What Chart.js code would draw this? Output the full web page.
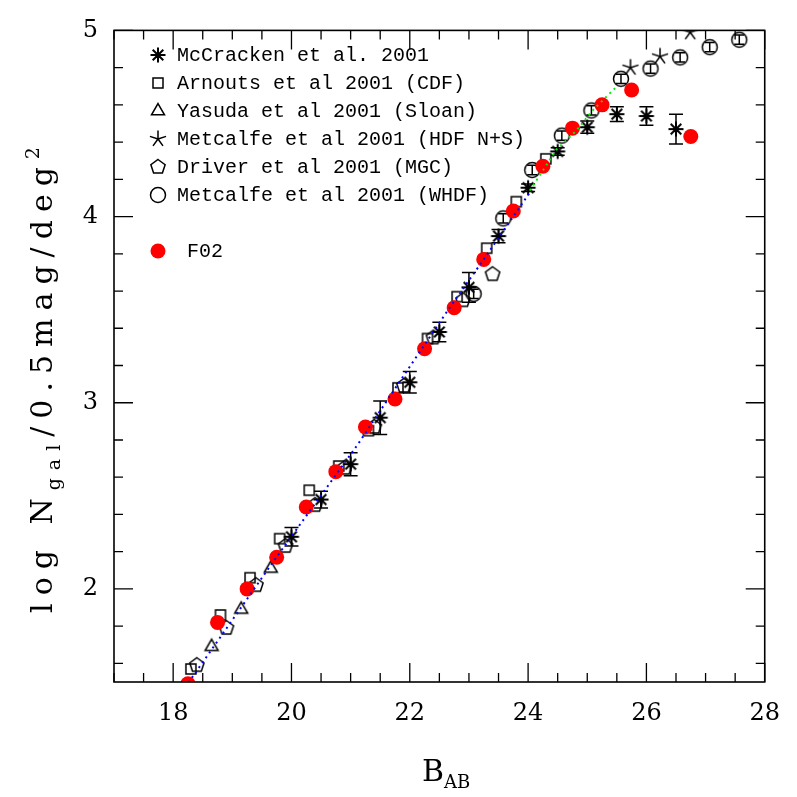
<!DOCTYPE html>
<html>
<head>
<meta charset="utf-8">
<script src="https://cdn.jsdelivr.net/npm/chart.js@4.4.0/dist/chart.umd.min.js"></script>
<style>
  html, body { margin: 0; padding: 0; background: #fff; }
</style>
</head>
<body>
<canvas id="chart" width="797" height="797"></canvas>
<script>
// F02 (red filled circles)
const f02Mag = [18.25, 18.75, 19.25, 19.75, 20.25, 20.75, 21.25, 21.75, 22.25, 22.75, 23.25, 23.75, 24.25, 24.75, 25.25, 25.75, 26.75];
const f02LogN = [1.49, 1.82, 2.00, 2.17, 2.44, 2.63, 2.87, 3.02, 3.29, 3.51, 3.77, 4.03, 4.27, 4.475, 4.60, 4.68, 4.43];

// McCracken et al. 2001
const mccMag = [20.0, 20.5, 21.0, 21.5, 22.0, 22.5, 23.0, 23.5, 24.0, 24.5, 25.0, 25.5, 26.0, 26.5];
const mccLogN = [2.28, 2.48, 2.67, 2.92, 3.11, 3.38, 3.62, 3.895, 4.155, 4.35, 4.48, 4.55, 4.54, 4.47];
const mccErr = [0.05, 0.045, 0.062, 0.09, 0.058, 0.053, 0.08, 0.036, 0.02, 0.02, 0.033, 0.04, 0.05, 0.08];

// Arnouts et al 2001 (CDF)
const arnMag = [18.3, 18.8, 19.3, 19.8, 20.3, 20.8, 21.3, 21.8, 22.3, 22.8, 23.3, 23.8, 24.3];
const arnLogN = [1.57, 1.86, 2.06, 2.27, 2.53, 2.66, 2.85, 3.08, 3.345, 3.57, 3.83, 4.08, 4.31];

// Yasuda et al 2001 (Sloan)
const yasMag = [18.65, 19.15, 19.65];
const yasLogN = [1.69, 1.89, 2.11];

// Metcalfe et al 2001 (HDF N+S)
const hdfMag = [25.73, 26.23, 26.74];
const hdfLogN = [4.80, 4.86, 4.99];

// Driver et al 2001 (MGC)
const mgcMag = [18.4, 18.9, 19.4, 19.9, 20.4, 20.9, 21.4, 21.9, 22.4, 22.9, 23.4];
const mgcLogN = [1.59, 1.79, 2.02, 2.23, 2.45, 2.65, 2.87, 3.09, 3.35, 3.55, 3.69];

// Metcalfe et al 2001 (WHDF)
const whdfMag = [23.08, 23.58, 24.07, 24.57, 25.07, 25.57, 26.07, 26.57, 27.07, 27.57];
const whdfLogN = [3.585, 3.99, 4.25, 4.435, 4.57, 4.74, 4.795, 4.855, 4.91, 4.95];
const whdfErr = [0.025, 0.025, 0.025, 0.025, 0.025, 0.025, 0.025, 0.025, 0.025, 0.025];

// model curves (dotted)
const blueMag = [18.2, 19.7, 21.13, 21.8, 22.63, 23.25, 24.03];
const blueLogN = [1.47, 2.15, 2.78, 3.10, 3.49, 3.77, 4.13];
const greenMag = [24.03, 24.48, 24.81, 25.09, 25.47];
const greenLogN = [4.14, 4.36, 4.46, 4.57, 4.69];

// axes
const xTickLabels = [18, 20, 22, 24, 26, 28];
const yTickLabels = [2, 3, 4, 5];

const pts = (xs, ys) => xs.map((x, i) => ({ x, y: ys[i] }));

function makeSymbol(draw, lw) {
    const c = document.createElement('canvas');
    c.width = 22;
    c.height = 22;
    const g = c.getContext('2d');
    g.translate(11, 11);
    g.strokeStyle = '#000';
    g.lineWidth = lw || 1.5;
    g.beginPath();
    draw(g);
    g.stroke();
    return c;
}

const asterisk = (n, r) => (g) => {
    for (let k = 0; k < n; k++) {
        const a = -Math.PI / 2 + k * 2 * Math.PI / n;
        g.moveTo(0, 0);
        g.lineTo(r * Math.cos(a), r * Math.sin(a));
    }
};
const polygon = (n, r) => (g) => {
    for (let k = 0; k <= n; k++) {
        const a = -Math.PI / 2 + k * 2 * Math.PI / n;
        const px = r * Math.cos(a), py = r * Math.sin(a);
        k ? g.lineTo(px, py) : g.moveTo(px, py);
    }
    g.closePath();
};

const symMcc = makeSymbol(asterisk(8, 7.5), 2);
const symSquare = makeSymbol((g) => g.rect(-5, -5, 10, 10));
const symTriangle = makeSymbol(polygon(3, 7.5));
const symStar5 = makeSymbol(asterisk(5, 8.5));
const symPentagon = makeSymbol(polygon(5, 7.5));
const symCircle = makeSymbol((g) => g.arc(0, 0, 7.5, 0, Math.PI * 2));

const legendRows = [
    { sym: symMcc, text: 'McCracken et al. 2001', y: 55 },
    { sym: symSquare, text: 'Arnouts et al 2001 (CDF)', y: 83 },
    { sym: symTriangle, text: 'Yasuda et al 2001 (Sloan)', y: 111 },
    { sym: symStar5, text: 'Metcalfe et al 2001 (HDF N+S)', y: 139 },
    { sym: symPentagon, text: 'Driver et al 2001 (MGC)', y: 167 },
    { sym: symCircle, text: 'Metcalfe et al 2001 (WHDF)', y: 195 },
];

const errorBars = {
    id: 'errorBars',
    beforeDatasetsDraw(chart) {
        const { ctx, scales: { x, y } } = chart;
        ctx.save();
        ctx.strokeStyle = '#000';
        ctx.lineWidth = 1.5;
        chart.data.datasets.forEach((ds) => {
            if (!ds.errors) return;
            ds.data.forEach((p, i) => {
                const px = x.getPixelForValue(p.x);
                const top = y.getPixelForValue(p.y + ds.errors[i]);
                const bot = y.getPixelForValue(p.y - ds.errors[i]);
                const w = ds.capHalf;
                ctx.beginPath();
                ctx.moveTo(px, top); ctx.lineTo(px, bot);
                ctx.moveTo(px - w, top); ctx.lineTo(px + w, top);
                ctx.moveTo(px - w, bot); ctx.lineTo(px + w, bot);
                ctx.stroke();
            });
        });
        ctx.restore();
    },
};

const frame = {
    id: 'frame',
    afterDraw(chart) {
        const { ctx, chartArea: a, scales: { x, y } } = chart;
        ctx.save();
        ctx.strokeStyle = '#000';
        ctx.lineWidth = 1.6;
        ctx.strokeRect(a.left, a.top, a.width, a.height);
        ctx.lineWidth = 1.3;
        ctx.beginPath();
        // inward ticks, x: minor every 0.5, major every 2
        for (let v = 17; v <= 28.001; v += 0.5) {
            const px = x.getPixelForValue(v);
            const len = xTickLabels.includes(v) ? 19 : 9;
            ctx.moveTo(px, a.bottom); ctx.lineTo(px, a.bottom - len);
            ctx.moveTo(px, a.top); ctx.lineTo(px, a.top + len);
        }
        // y: minor every 0.2, major every 1
        for (let k = 8; k <= 25; k++) {
            const v = k / 5;
            const py = y.getPixelForValue(v);
            const len = k % 5 === 0 ? 19 : 9;
            ctx.moveTo(a.left, py); ctx.lineTo(a.left + len, py);
            ctx.moveTo(a.right, py); ctx.lineTo(a.right - len, py);
        }
        ctx.stroke();

        // legend inside plot
        ctx.fillStyle = '#000';
        ctx.font = '20px "Liberation Mono"';
        ctx.textBaseline = 'middle';
        legendRows.forEach((r) => {
            ctx.drawImage(r.sym, 158 - 11, r.y - 11);
            ctx.fillText(r.text, 177, r.y + 1);
        });
        ctx.fillStyle = '#ff0000';
        ctx.beginPath();
        ctx.arc(158, 251, 7.5, 0, Math.PI * 2);
        ctx.fill();
        ctx.fillStyle = '#000';
        ctx.fillText('F02', 187, 252);

        // axis titles with sub/superscripts
        ctx.font = '30px "DejaVu Serif"';
        ctx.textBaseline = 'alphabetic';
        ctx.fillText('B', 422, 781);
        ctx.font = '18px "DejaVu Serif"';
        ctx.fillText('AB', 444, 788);

        ctx.translate(52, 376);
        ctx.rotate(-Math.PI / 2);
        const segs = [
            { t: 'log N', f: 30, dy: 0 },
            { t: 'gal', f: 19, dy: 8 },
            { t: '/0.5mag/deg', f: 30, dy: 0 },
            { t: '2', f: 19, dy: -13 },
        ];
        ctx.letterSpacing = '8px';
        let total = 0;
        segs.forEach((s) => {
            ctx.font = s.f + 'px "DejaVu Serif"';
            s.w = ctx.measureText(s.t).width;
            total += s.w;
        });
        let cx = -total / 2;
        segs.forEach((s) => {
            ctx.font = s.f + 'px "DejaVu Serif"';
            ctx.fillText(s.t, cx, s.dy);
            cx += s.w;
        });
        ctx.restore();
    },
};

new Chart(document.getElementById('chart'), {
    type: 'scatter',
    data: {
        datasets: [
            {
                label: 'model',
                data: pts(blueMag, blueLogN),
                showLine: true,
                borderColor: '#0000ff',
                borderWidth: 2,
                borderDash: [2, 4],
                pointRadius: 0,
                order: 0,
            },
            {
                label: 'model faint',
                data: pts(greenMag, greenLogN),
                showLine: true,
                borderColor: '#00ee00',
                borderWidth: 2,
                borderDash: [2, 4],
                pointRadius: 0,
                order: 1,
            },
            {
                label: 'F02',
                data: pts(f02Mag, f02LogN),
                pointStyle: 'circle',
                pointRadius: 7.5,
                backgroundColor: '#ff0000',
                borderWidth: 0,
                order: 2,
            },
            {
                label: 'McCracken et al. 2001',
                data: pts(mccMag, mccLogN),
                errors: mccErr,
                capHalf: 7,
                pointStyle: symMcc,
                order: 3,
            },
            {
                label: 'Arnouts et al 2001 (CDF)',
                data: pts(arnMag, arnLogN),
                pointStyle: symSquare,
                order: 4,
            },
            {
                label: 'Yasuda et al 2001 (Sloan)',
                data: pts(yasMag, yasLogN),
                pointStyle: symTriangle,
                order: 5,
            },
            {
                label: 'Metcalfe et al 2001 (HDF N+S)',
                data: pts(hdfMag, hdfLogN),
                pointStyle: symStar5,
                order: 6,
            },
            {
                label: 'Driver et al 2001 (MGC)',
                data: pts(mgcMag, mgcLogN),
                pointStyle: symPentagon,
                order: 7,
            },
            {
                label: 'Metcalfe et al 2001 (WHDF)',
                data: pts(whdfMag, whdfLogN),
                errors: whdfErr,
                capHalf: 5,
                pointStyle: symCircle,
                order: 8,
            },
        ],
    },
    options: {
        responsive: false,
        animation: false,
        events: [],
        layout: { padding: { top: 27, right: 26, left: 0, bottom: 0 } },
        plugins: { legend: { display: false }, tooltip: { enabled: false } },
        scales: {
            x: {
                type: 'linear',
                min: 17,
                max: 28,
                grid: { display: false, drawTicks: false },
                border: { display: false },
                afterBuildTicks: (s) => { s.ticks = xTickLabels.map((v) => ({ value: v })); },
                afterFit: (s) => { s.height = 115; },
                ticks: { padding: 17, color: '#000', font: { family: 'DejaVu Serif', size: 24 } },
            },
            y: {
                type: 'linear',
                min: 1.5,
                max: 5,
                grid: { display: false, drawTicks: false },
                border: { display: false },
                afterBuildTicks: (s) => { s.ticks = yTickLabels.map((v) => ({ value: v })); },
                afterFit: (s) => { s.width = 114; },
                ticks: { padding: 16, color: '#000', font: { family: 'DejaVu Serif', size: 24 } },
            },
        },
    },
    plugins: [errorBars, frame],
});
</script>
</body>
</html>
